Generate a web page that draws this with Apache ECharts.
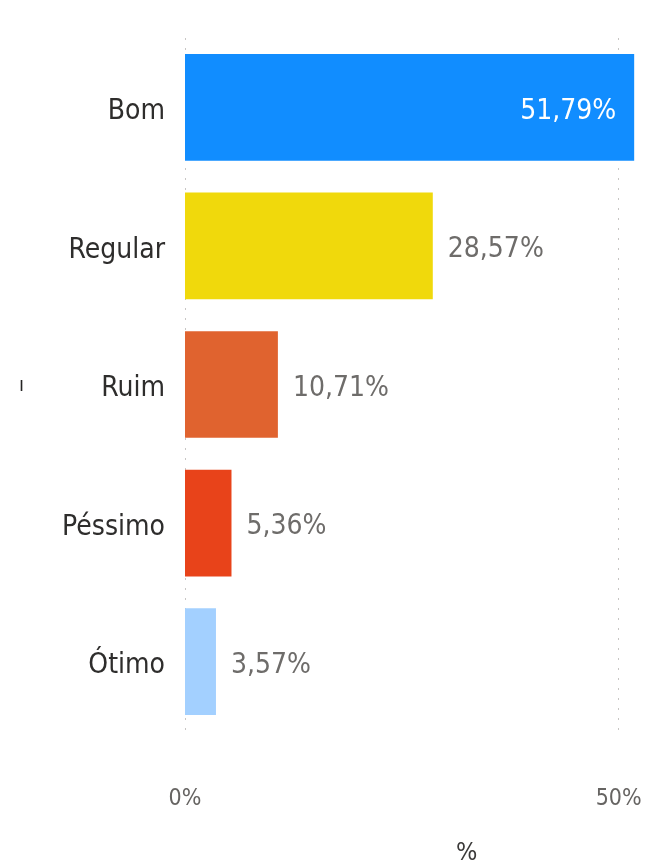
<!DOCTYPE html>
<html><head><meta charset="utf-8">
<script src="https://cdn.jsdelivr.net/npm/echarts@6/dist/echarts.min.js"></script>
<style>html,body{margin:0;padding:0;background:#fff}#c{width:646px;height:867px}</style>
</head><body><div id="c"></div>
<script>
const categories = ['Bom','Regular','Ruim','Péssimo','Ótimo'];
const values = [51.79, 28.57, 10.71, 5.36, 3.57];
const barColors = ['#118DFF','#F0D90C','#E0632F','#E8431A','#A3D0FF'];
const tickValues = [0, 50];
const FONT = '"DejaVu Sans Condensed", sans-serif';
const chart = echarts.init(document.getElementById('c'));
chart.setOption({
  animation:false,
  title:{text:'%', left:451, top:836, textStyle:{fontFamily:FONT, fontSize:25, fontWeight:'normal', color:'#3B3A39'}},
  graphic:[{type:'text', left:19, top:376, style:{text:'ı', font:'20px '+FONT, fill:'#252423'}}],
  grid:{left:185, right:10, top:38, bottom:136, containLabel:false},
  xAxis:{type:'value', min:0, max:52, interval:50,
    axisLine:{show:false}, axisTick:{show:false},
    axisLabel:{showMaxLabel:false, margin:57, formatter:v=>v+'%', color:'#666462', fontFamily:FONT, fontSize:23},
    splitLine:{show:true, showMaxLine:false, lineStyle:{type:[2,8], color:'#C8C6C4', width:1}}},
  yAxis:{type:'category', data:categories, inverse:true,
    axisLine:{show:false}, axisTick:{show:false},
    axisLabel:{margin:20, formatter:v=>'{a|'+v+'}',
      rich:{a:{color:'#2E2D2C', fontFamily:FONT, fontSize:28, padding:[9,0,0,0]}}}},
  series:[{type:'bar', barCategoryGap:'23%',
    data: values.map((v,i)=>({value:v, itemStyle:{color:barColors[i]},
      label: i===0 ? {position:'insideRight', distance:18, color:'#FFFFFF'} : {position:'right', distance:15, color:'#6E6C6A'}})),
    label:{show:true, fontFamily:FONT, fontSize:28, offset:[0,4], formatter:p=>p.value.toFixed(2).replace('.',',')+'%'}
  }]
});
</script></body></html>
